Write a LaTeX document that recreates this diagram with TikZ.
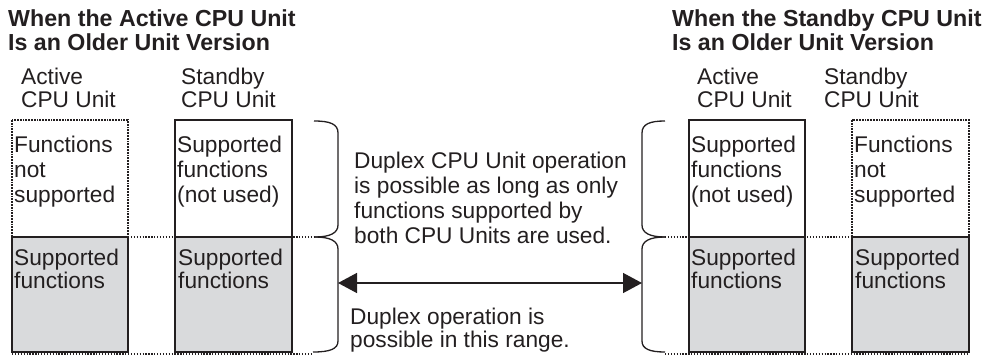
\documentclass[tikz,border=0pt]{standalone}
\usepackage{fontspec}
\setmainfont{Liberation Sans}
\usepackage{tikz}
\usetikzlibrary{arrows.meta}

\definecolor{ink}{RGB}{35,31,32}
\definecolor{boxgray}{RGB}{217,218,220}

\tikzset{
  % base west = baseline of the last line
  lbl/.style={anchor=base west, inner sep=0pt, align=left, text=ink,
    font=\fontsize{22.7}{25}\selectfont},
  lblnarrow/.style={lbl, font=\fontsize{22.7}{22.8}\selectfont},
  ttl/.style={lbl, font=\fontsize{23.2}{23.5}\selectfont\bfseries},
  solidbox/.style={draw=ink, fill=white, line width=2pt},
  nsbox/.style={draw=ink, fill=white, line width=2pt, dash pattern=on 1.8pt off 1pt},
  graybox/.style={draw=ink, fill=boxgray, line width=2pt},
  guide/.style={draw=ink, line width=1.2pt, dash pattern=on 1.3pt off 1.6pt},
  brace/.style={draw=ink, line width=1.3pt},
  spanarrow/.style={draw=ink, line width=1.4pt,
    {Triangle[length=19pt,width=20pt]}-{Triangle[length=19pt,width=20pt]}},
}

\begin{document}
\begin{tikzpicture}[x=1pt,y=-1pt]
\useasboundingbox (0,0) rectangle (989,356);

% ========= brace points =========
\coordinate (lbtop) at (314,121);
\coordinate (lbmid) at (315,237);
\coordinate (lbbot) at (313,352);
\coordinate (rbtop) at (665,121);
\coordinate (rbmid) at (665,237);
\coordinate (rbbot) at (665,352);
\coordinate (larr) at (338,283);
\coordinate (rarr) at (642,283);

% ========= dotted guides =========
\coordinate (lgm) at (12,237);
\coordinate (lgb) at (12,354);
\coordinate (rgm) at (969,237);
\coordinate (rgb) at (969,354);
\draw[guide] (lgm) -- (lbmid);
\draw[guide] (lgb) -- (lbbot |- lgb);
\draw[guide] (rbmid) -- (rgm);
\draw[guide] (rbbot |- rgb) -- (rgb);

% ========= left: Active CPU Unit is older =========
\node[ttl] (ttlL) at (8,50) {When the Active CPU Unit\\Is an Older Unit Version};
\node[lblnarrow] (actL) at (21,107) {Active\\CPU Unit};
\node[lblnarrow] (stbL) at (181,107) {Standby\\CPU Unit};
\draw[nsbox] (12,120) rectangle (128,237);
\draw[graybox] (12,237) rectangle (128,352);
\draw[solidbox] (175,120) rectangle (292,237);
\draw[graybox] (175,237) rectangle (292,352);
\node[lbl] (nsL) at (14,202) {Functions\\not\\supported};
\node[lbl] (suL) at (177,202) {Supported\\functions\\(not used)};
\node[lblnarrow] (sfL1) at (14,288) {Supported\\functions};
\node[lblnarrow] (sfL2) at (178,288) {Supported\\functions};

% ========= right: Standby CPU Unit is older =========
\node[ttl] (ttlR) at (672,50) {When the Standby CPU Unit\\Is an Older Unit Version};
\node[lblnarrow] (actR) at (697,107) {Active\\CPU Unit};
\node[lblnarrow] (stbR) at (824,107) {Standby\\CPU Unit};
\draw[solidbox] (689,120) rectangle (805,237);
\draw[graybox] (689,237) rectangle (805,352);
\draw[nsbox] (852,120) rectangle (969,237);
\draw[graybox] (852,237) rectangle (969,352);
\node[lbl] (suR) at (691,202) {Supported\\functions\\(not used)};
\node[lbl] (nsR) at (854,202) {Functions\\not\\supported};
\node[lblnarrow] (sfR1) at (691,288) {Supported\\functions};
\node[lblnarrow] (sfR2) at (855,288) {Supported\\functions};

% ========= braces =========
\draw[brace] (lbtop) .. controls (330,121) and (338,124) .. (338,133) -- (338,225)
  .. controls (338,233) and (330,237) .. (lbmid);
\draw[brace] (lbmid) .. controls (330,237) and (338,241) .. (338,249) -- (338,341)
  .. controls (338,349) and (330,352) .. (lbbot);
\draw[brace] (rbtop) .. controls (650,121) and (642,124) .. (642,133) -- (642,225)
  .. controls (642,233) and (650,237) .. (rbmid);
\draw[brace] (rbmid) .. controls (650,237) and (642,241) .. (642,249) -- (642,341)
  .. controls (642,349) and (650,352) .. (rbbot);

% ========= middle =========
\node[lbl] (dupA) at (354,243) {Duplex CPU Unit operation\\is possible as long as only\\functions supported by\\both CPU Units are used.};
\draw[spanarrow] (larr) -- (rarr);
\node[lblnarrow] (dupB) at (350,347) {Duplex operation is\\possible in this range.};
\end{tikzpicture}
\end{document}
